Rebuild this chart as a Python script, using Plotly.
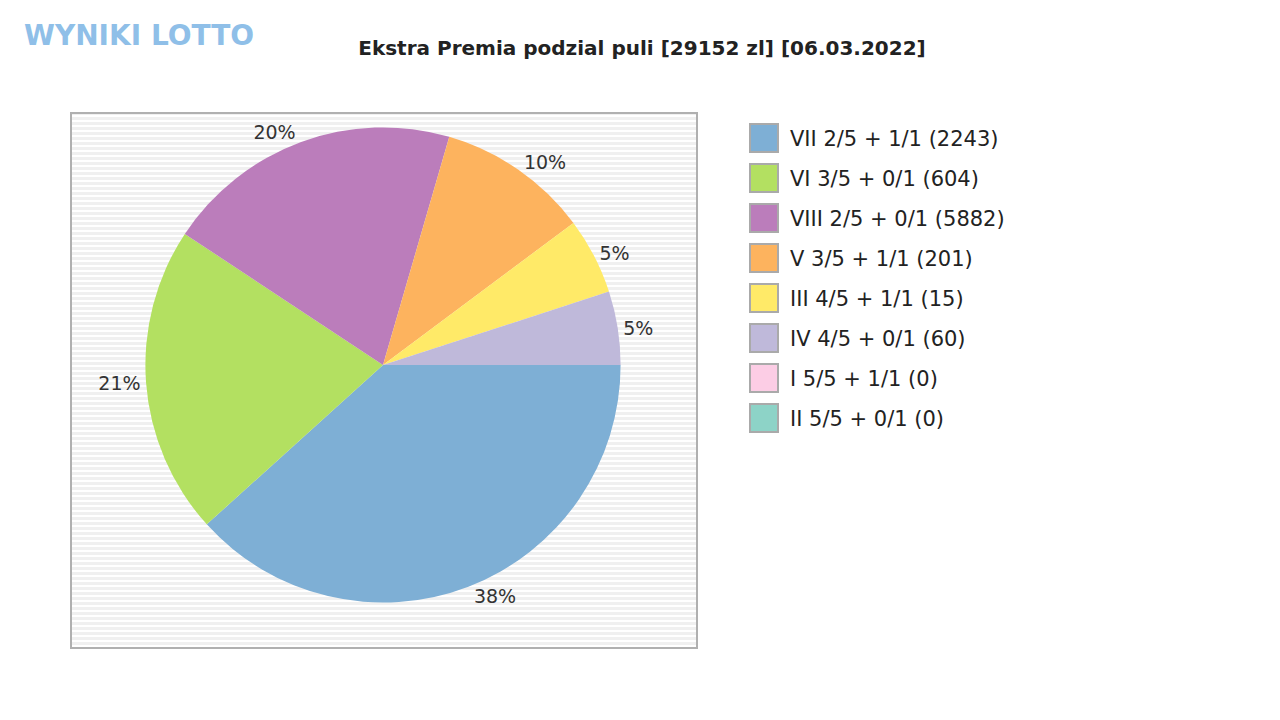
import plotly.graph_objects as go

# legend labels and pool shares (%)
labels = ["VII 2/5 + 1/1 (2243)", "VI 3/5 + 0/1 (604)", "VIII 2/5 + 0/1 (5882)",
          "V 3/5 + 1/1 (201)", "III 4/5 + 1/1 (15)", "IV 4/5 + 0/1 (60)",
          "I 5/5 + 1/1 (0)", "II 5/5 + 0/1 (0)"]
shares = [38.3, 21.0, 20.2, 10.3, 5.2, 5.0, 0, 0]
colors = ["#7eafd5", "#b3e061", "#bb7dbb", "#fdb35e", "#ffea68", "#bfb9da", "#fccde5", "#8dd3c7"]

texts = ["" if v == 0 else "%d%%" % round(v) for v in shares]

W, H = 1280, 720
OFF = 8  # page offset of the plot div

def px(x):
    return (x - OFF) / W

def py(y):
    return 1 - (y - OFF) / H

fig = go.Figure(go.Pie(
    labels=labels, values=shares, sort=False, direction="clockwise", rotation=90,
    marker=dict(colors=colors, line=dict(color="rgba(0,0,0,0)", width=0)),
    text=texts, textinfo="text", textposition="outside",
    textfont=dict(family="DejaVu Sans", size=19, color="#333"),
    domain=dict(x=[px(383) - 0.2, px(383) + 0.2], y=[py(365) - 0.33, py(365) + 0.33]),
    hoverinfo="label+percent", showlegend=False,
))

# striped plot background
shapes = [dict(type="rect", xref="paper", yref="paper", x0=px(71), x1=px(697), y0=py(648), y1=py(113),
               fillcolor="#f0f0f0", line=dict(color="#b0b0b0", width=2), layer="below")]
y = 646
while y > 115:
    shapes.append(dict(type="line", xref="paper", yref="paper", x0=px(72), x1=px(696), y0=py(y), y1=py(y),
                       line=dict(color="#ffffff", width=2), layer="below"))
    y -= 5

annotations = [dict(text="<b>WYNIKI LOTTO</b>", xref="paper", yref="paper", x=px(22), y=py(36),
                    xanchor="left", yanchor="middle", showarrow=False,
                    font=dict(family="DejaVu Sans", size=28, color="#8fbfe8"))]

# hand-drawn legend (wider row spacing than plotly's)
for i, (lab, col) in enumerate(zip(labels, colors)):
    top = 124 + 40 * i
    shapes.append(dict(type="rect", xref="paper", yref="paper",
                       x0=px(750), x1=px(778), y0=py(top + 28), y1=py(top),
                       fillcolor=col, line=dict(color="#aaaaaa", width=2)))
    annotations.append(dict(text=lab, xref="paper", yref="paper", x=px(788), y=py(top + 15),
                            xanchor="left", yanchor="middle", showarrow=False,
                            font=dict(family="DejaVu Sans", size=21, color="#222")))

fig.update_layout(
    width=W, height=H, margin=dict(l=0, r=0, t=0, b=0),
    paper_bgcolor="white", shapes=shapes, annotations=annotations,
    title=dict(text="<b>Ekstra Premia podzial puli [29152 zl] [06.03.2022]</b>", x=px(642), y=py(48),
               xanchor="center", yanchor="middle", font=dict(family="DejaVu Sans", size=20, color="#222")),
)

fig.write_html("out.html")
